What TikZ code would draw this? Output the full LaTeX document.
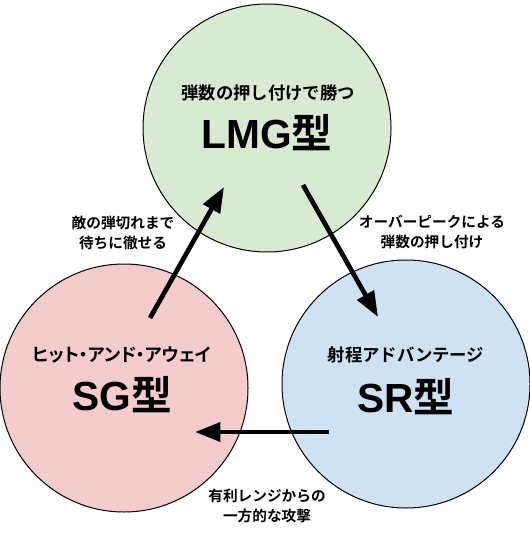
\documentclass[tikz,border=0pt]{standalone}
\usepackage{fontspec}
\setmainfont{Liberation Sans}
\newfontfamily\jpfont{Noto Sans CJK JP}[BoldFont={Noto Sans CJK JP Bold}]
\newfontfamily\jppropfont{Noto Sans CJK JP}[BoldFont={Noto Sans CJK JP Bold}, RawFeature=+palt]
\usetikzlibrary{arrows.meta}

\definecolor{lmggreen}{HTML}{D9EAD3}
\definecolor{sgpink}{HTML}{F4CCCC}
\definecolor{srblue}{HTML}{CFE2F3}

\tikzset{
  typecircle/.style={circle, draw=black, line width=0.75pt, minimum size=186pt, inner sep=0pt},
  subtitle/.style={font=\jpfont\bfseries\fontsize{13}{15}\selectfont},
  typename/.style={font=\bfseries\fontsize{30.5}{34}\selectfont},
  edgelabel/.style={align=center, font=\jpfont\bfseries\fontsize{11}{14.5}\selectfont},
  bigarrow/.style={line width=3.5pt, -{Triangle[length=19pt,width=14pt]}}
}

\begin{document}
\begin{tikzpicture}[x=0.75pt,y=0.75pt,yscale=-1]
\useasboundingbox (0,0) rectangle (530,538);

%Shape: Circle
\node [typecircle, fill=lmggreen] (lmg) at (267,128) {};
%Shape: Circle
\node [typecircle, fill=sgpink] (sg) at (124,388) {};
%Shape: Circle
\node [typecircle, fill=srblue] (sr) at (406,384) {};

% Text Node
\node [subtitle] (lmgsub) at (268,93) {弾数の押し付けで勝つ};
% Text Node
\node [typename] (lmgname) at (267,133) {LMG{\jpfont 型}};
% Text Node
\node [subtitle, font=\jppropfont\bfseries\fontsize{13.5}{15}\selectfont] (sgsub) at (122,355) {ヒット・アンド・アウェイ};
% Text Node
\node [typename] (sgname) at (122,395) {SG{\jpfont 型}};
% Text Node
\node [subtitle] (srsub) at (406,355) {射程アドバンテージ};
% Text Node
\node [typename] (srname) at (406,397) {SR{\jpfont 型}};

%Arrow ends
\coordinate (sgout) at (150,318);
\coordinate (lmgin) at (224,187);
\coordinate (lmgout) at (303,185);
\coordinate (srin) at (378,317);
\coordinate (srout) at (329,432);
\coordinate (sgin) at (195,432);

%Straight Lines
\draw [bigarrow] (sgout) -- (lmgin);
\draw [bigarrow] (lmgout) -- (srin);
\draw [bigarrow] (srout) -- (sgin);

% Text Node
\node [edgelabel] (waitlabel) at (123,233) {敵の弾切れまで\\待ちに徹せる};
% Text Node
\node [edgelabel] (peaklabel) at (432,232) {オーバーピークによる\\弾数の押し付け};
% Text Node
\node [edgelabel] (rangelabel) at (267,506) {有利レンジからの\\一方的な攻撃};

\end{tikzpicture}
\end{document}
